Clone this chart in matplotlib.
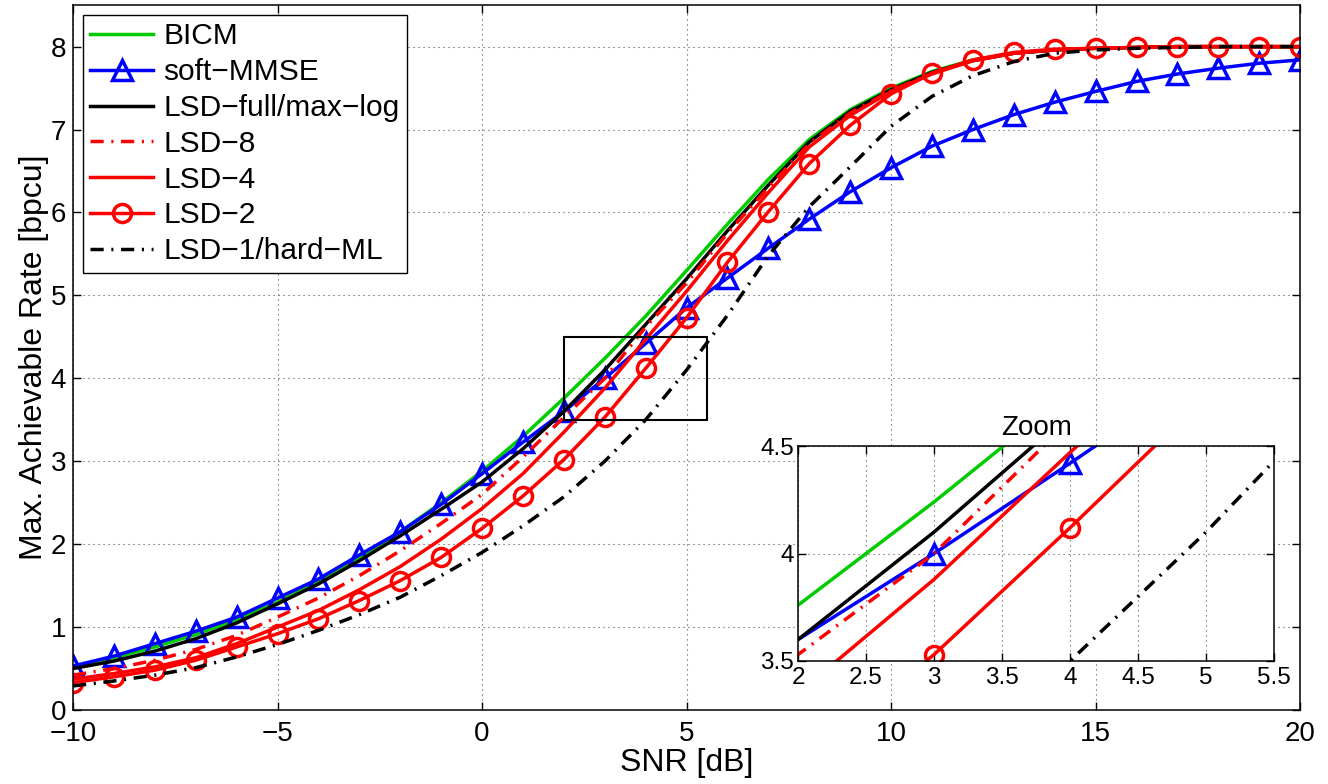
import numpy as np
import matplotlib
matplotlib.use("Agg")
import matplotlib.pyplot as plt
from matplotlib.patches import Rectangle

plt.rcParams['font.family'] = ['Liberation Sans', 'DejaVu Sans']

# SNR grid [dB], one point per dB
snr = np.arange(-10, 21)

bicm = [0.52, 0.63, 0.76, 0.91, 1.09, 1.30, 1.55, 1.84, 2.15, 2.50, 2.88,
        3.30, 3.76, 4.24, 4.75, 5.30, 5.86, 6.40, 6.88, 7.24, 7.50,
        7.70, 7.84, 7.92, 7.96, 7.98, 7.99, 8.0, 8.0, 8.0, 8.0]
soft_mmse = [0.53, 0.65, 0.80, 0.95, 1.12, 1.35, 1.58, 1.87, 2.15, 2.48, 2.85,
             3.23, 3.60, 4.00, 4.42, 4.85, 5.21, 5.57, 5.92, 6.25, 6.54,
             6.80, 7.00, 7.18, 7.33, 7.46, 7.58, 7.67, 7.74, 7.80, 7.84]
lsd_full = [0.50, 0.59, 0.71, 0.86, 1.05, 1.28, 1.52, 1.80, 2.10, 2.42, 2.75,
            3.15, 3.60, 4.10, 4.65, 5.20, 5.78, 6.33, 6.85, 7.22, 7.48,
            7.69, 7.83, 7.92, 7.96, 7.98, 7.99, 8.0, 8.0, 8.0, 8.0]
lsd_8 = [0.42, 0.50, 0.60, 0.73, 0.90, 1.12, 1.35, 1.62, 1.92, 2.25, 2.60,
         3.05, 3.53, 4.00, 4.62, 5.15, 5.75, 6.30, 6.83, 7.20, 7.47,
         7.68, 7.83, 7.92, 7.96, 7.98, 7.99, 8.0, 8.0, 8.0, 8.0]
lsd_4 = [0.37, 0.44, 0.52, 0.63, 0.80, 1.00, 1.20, 1.45, 1.73, 2.06, 2.43,
         2.85, 3.35, 3.88, 4.47, 5.05, 5.66, 6.24, 6.79, 7.17, 7.46,
         7.67, 7.83, 7.92, 7.96, 7.98, 7.99, 8.0, 8.0, 8.0, 8.0]
lsd_2 = [0.33, 0.40, 0.48, 0.60, 0.76, 0.92, 1.10, 1.32, 1.56, 1.84, 2.19,
         2.58, 3.02, 3.53, 4.12, 4.73, 5.40, 6.01, 6.59, 7.05, 7.43,
         7.68, 7.84, 7.93, 7.97, 7.98, 7.99, 8.0, 8.0, 8.0, 8.0]
lsd_1 = [0.29, 0.35, 0.42, 0.51, 0.64, 0.79, 0.96, 1.15, 1.36, 1.62, 1.90,
         2.22, 2.57, 3.00, 3.50, 4.10, 4.76, 5.48, 6.07, 6.55, 7.04,
         7.40, 7.65, 7.82, 7.92, 7.96, 7.98, 7.99, 8.0, 8.0, 8.0]

labels = ['BICM', 'soft\u2212MMSE', 'LSD\u2212full/max\u2212log', 'LSD\u22128',
          'LSD\u22124', 'LSD\u22122', 'LSD\u22121/hard\u2212ML']

# zoom window
ZOOM_X = [2, 5.5]
ZOOM_Y = [3.5, 4.5]

DASHDOT = (0, (3.8, 2.2, 0.6, 2.2))
LW = 2.5


def draw_curves(ax, every=None):
    ax.plot(snr, bicm, color=(0, 0.8, 0), lw=LW, label=labels[0])
    ax.plot(snr, soft_mmse, color='b', lw=LW, marker='^', ms=14,
            mfc='none', mew=2.5, markevery=every, label=labels[1])
    ax.plot(snr, lsd_full, color='k', lw=LW, label=labels[2])
    ax.plot(snr, lsd_8, color='r', lw=LW, ls=DASHDOT, label=labels[3])
    ax.plot(snr, lsd_4, color='r', lw=LW, label=labels[4])
    ax.plot(snr, lsd_2, color='r', lw=LW, marker='o', ms=13,
            mfc='none', mew=2.5, markevery=every, label=labels[5])
    ax.plot(snr, lsd_1, color='k', lw=LW, ls=DASHDOT, label=labels[6])


def style_axes(ax, size, pad_x, pad_y):
    ax.grid(True, color='0.3', ls=(0, (1, 3.5)), lw=0.8)
    ax.tick_params(direction='in', top=True, right=True, length=6,
                   width=1, labelsize=size)
    ax.tick_params(axis='x', pad=pad_x)
    ax.tick_params(axis='y', pad=pad_y)
    for s in ax.spines.values():
        s.set_linewidth(1.1)


fig = plt.figure(figsize=(13.28, 7.84), dpi=100)
ax = fig.add_axes([0.055, 0.0944, 0.924, 0.899])
draw_curves(ax)
ax.set_xlim(-10, 20)
ax.set_ylim(0, 8.5)
ax.set_xticks([-10, -5, 0, 5, 10, 15, 20])
ax.set_yticks(range(0, 9))
style_axes(ax, 20, 8, 5)
ax.set_xlabel('SNR [dB]', fontsize=23, labelpad=1)
ax.set_ylabel('Max. Achievable Rate [bpcu]', fontsize=23, labelpad=1)

ax.add_patch(Rectangle((ZOOM_X[0], ZOOM_Y[0]), ZOOM_X[1] - ZOOM_X[0],
                       ZOOM_Y[1] - ZOOM_Y[0], fill=False, ec='k', lw=1.5,
                       zorder=5))

leg = ax.legend(loc='upper left', fontsize=21.5, handlelength=2.1,
                handletextpad=0.35, labelspacing=0.26, borderpad=0.25,
                borderaxespad=0.33, fancybox=False, framealpha=1)
leg.get_frame().set_edgecolor('k')
leg.get_frame().set_linewidth(1.0)

# inset, markers only strictly inside the zoom window
axi = fig.add_axes([0.601, 0.1569, 0.3584, 0.2742])
inside = [i for i, x in enumerate(snr) if ZOOM_X[0] < x < ZOOM_X[1]]
draw_curves(axi, every=inside)
axi.set_xlim(*ZOOM_X)
axi.set_ylim(*ZOOM_Y)
axi.set_xticks(np.arange(2, 5.51, 0.5))
axi.set_xticklabels(['2', '2.5', '3', '3.5', '4', '4.5', '5', '5.5'])
axi.set_yticks([3.5, 4, 4.5])
axi.set_yticklabels(['3.5', '4', '4.5'])
style_axes(axi, 17.5, 4, 3)
axi.set_title('Zoom', fontsize=20, pad=8)

fig.savefig('out.png', dpi=100)
